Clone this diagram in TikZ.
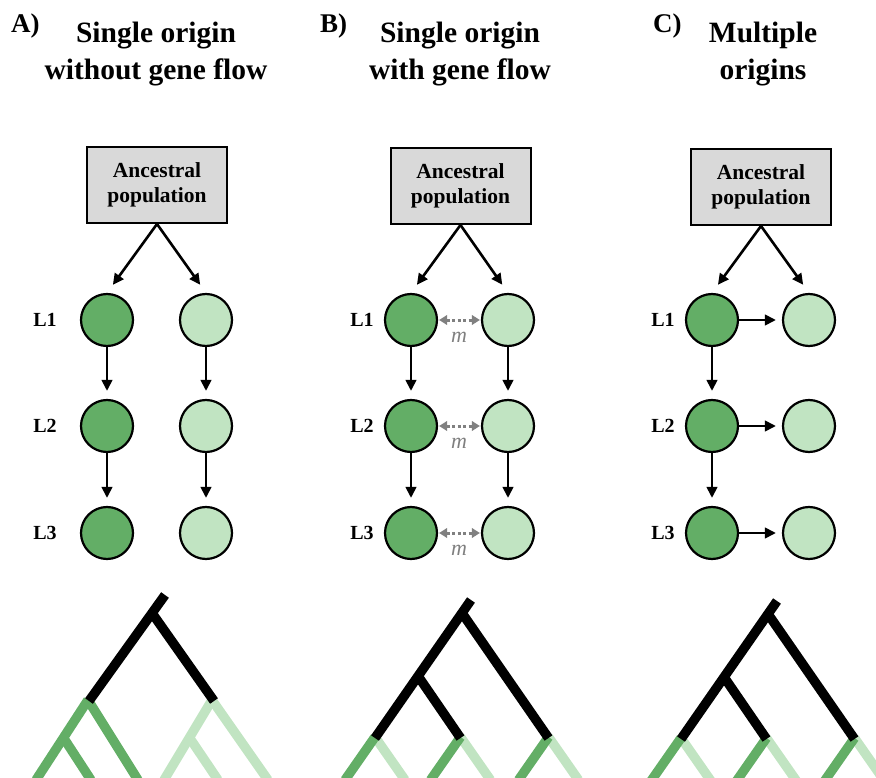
\documentclass[tikz,border=0pt]{standalone}
\usepackage{fontspec}
\setmainfont{Liberation Serif}
\usetikzlibrary{arrows.meta}
\definecolor{dkg}{HTML}{63AE66}
\definecolor{ltg}{HTML}{C1E4C2}
\definecolor{boxg}{HTML}{D9D9D9}
\definecolor{mg}{HTML}{808080}
\begin{document}
\begin{tikzpicture}[x=1pt,y=-1pt,
 title/.style={font=\fontsize{29.5}{37}\selectfont\bfseries, anchor=base, inner sep=0pt},
 plabel/.style={font=\fontsize{27}{30}\selectfont\bfseries, anchor=base west, inner sep=0pt},
 anc/.style={draw, line width=2pt, fill=boxg, minimum width=140pt, minimum height=76pt, align=center, font=\fontsize{21.5}{25}\selectfont\bfseries, inner sep=0pt},
 dk/.style={circle, draw, line width=2.2pt, fill=dkg, minimum size=52pt, inner sep=0pt},
 lt/.style={circle, draw, line width=2.2pt, fill=ltg, minimum size=52pt, inner sep=0pt},
 arr/.style={-{Triangle[length=11pt,width=10.5pt]}, line width=2.6pt},
 gf/.style={{Triangle[length=8pt,width=9.5pt]}-{Triangle[length=8pt,width=9.5pt]}, mg, line width=3pt, dash pattern=on 3pt off 2.5pt, shorten <=1pt, shorten >=1pt},
 lv/.style={font=\fontsize{20}{22}\selectfont\bfseries, inner sep=0pt},
 mlab/.style={font=\fontsize{22}{22}\selectfont\itshape, text=mg, inner sep=0pt},
 tr/.style={line width=9.5pt}
]
\useasboundingbox (0,0) rectangle (876,778);

% ---------- titles ----------
\node[plabel] (pA) at (11,33) {A)};
\node[plabel] (pB) at (320,33) {B)};
\node[plabel] (pC) at (653,33) {C)};
\node[title] (tA1) at (156,43) {Single origin};
\node[title] (tA2) at (156,80) {without gene flow};
\node[title] (tB1) at (460,43) {Single origin};
\node[title] (tB2) at (460,80) {with gene flow};
\node[title] (tC1) at (763,43) {Multiple};
\node[title] (tC2) at (763,80) {origins};

% ---------- panel A ----------
\node[anc] (ancA) at (157,185) {Ancestral\\population};
\node[dk] (a1) at (107,320) {};
\node[dk] (a2) at (107,426) {};
\node[dk] (a3) at (107,533) {};
\node[lt] (ar1) at (206,320) {};
\node[lt] (ar2) at (206,426) {};
\node[lt] (ar3) at (206,533) {};
\node[lv] (la1) at (45,320) {L1};
\node[lv] (la2) at (45,426) {L2};
\node[lv] (la3) at (45,533) {L3};
\draw[arr, shorten >=10pt] (ancA.south) -- (a1.north);
\draw[arr, shorten >=10pt] (ancA.south) -- (ar1.north);
\draw[arr, shorten >=8pt] (a1.south) -- (a2.north);
\draw[arr, shorten >=8pt] (a2.south) -- (a3.north);
\draw[arr, shorten >=8pt] (ar1.south) -- (ar2.north);
\draw[arr, shorten >=8pt] (ar2.south) -- (ar3.north);

% ---------- panel B ----------
\node[anc] (ancB) at (460.5,186) {Ancestral\\population};
\node[dk] (b1) at (411,320) {};
\node[dk] (b2) at (411,426) {};
\node[dk] (b3) at (411,533) {};
\node[lt] (br1) at (508,320) {};
\node[lt] (br2) at (508,426) {};
\node[lt] (br3) at (508,533) {};
\node[lv] (lb1) at (362,320) {L1};
\node[lv] (lb2) at (362,426) {L2};
\node[lv] (lb3) at (362,533) {L3};
\draw[arr, shorten >=10pt] (ancB.south) -- (b1.north);
\draw[arr, shorten >=10pt] (ancB.south) -- (br1.north);
\draw[arr, shorten >=8pt] (b1.south) -- (b2.north);
\draw[arr, shorten >=8pt] (b2.south) -- (b3.north);
\draw[arr, shorten >=8pt] (br1.south) -- (br2.north);
\draw[arr, shorten >=8pt] (br2.south) -- (br3.north);
\draw[gf] (b1.east) -- (br1.west);
\draw[gf] (b2.east) -- (br2.west);
\draw[gf] (b3.east) -- (br3.west);
\node[mlab] (m1) at (459,337) {m};
\node[mlab] (m2) at (459,443) {m};
\node[mlab] (m3) at (459,550) {m};

% ---------- panel C ----------
\node[anc] (ancC) at (761,187) {Ancestral\\population};
\node[dk] (c1) at (712,320) {};
\node[dk] (c2) at (712,426) {};
\node[dk] (c3) at (712,533) {};
\node[lt] (cr1) at (809,320) {};
\node[lt] (cr2) at (809,426) {};
\node[lt] (cr3) at (809,533) {};
\node[lv] (lc1) at (663,320) {L1};
\node[lv] (lc2) at (663,426) {L2};
\node[lv] (lc3) at (663,533) {L3};
\draw[arr, shorten >=10pt] (ancC.south) -- (c1.north);
\draw[arr, shorten >=10pt] (ancC.south) -- (cr1.north);
\draw[arr, shorten >=8pt] (c1.south) -- (c2.north);
\draw[arr, shorten >=8pt] (c2.south) -- (c3.north);
\draw[arr, shorten >=6pt] (c1.east) -- (cr1.west);
\draw[arr, shorten >=6pt] (c2.east) -- (cr2.west);
\draw[arr, shorten >=6pt] (c3.east) -- (cr3.west);

% ---------- trees ----------
\begin{scope}
\clip (0,0) rectangle (876,778);
% tree A
\draw[tr, dkg] (88,700) -- (36,780);
\draw[tr, dkg] (88,700) -- (138,780);
\draw[tr, dkg] (63,737) -- (91,780);
\draw[tr, ltg] (212,700) -- (164,780);
\draw[tr, ltg] (212,700) -- (268,780);
\draw[tr, ltg] (189,737) -- (218,780);
\draw[tr] (165,595) -- (89,701);
\draw[tr] (152,613) -- (214,701);
% trees B and C
\foreach \dx/\dy in {0/0, 306/1} {
 \begin{scope}[shift={(\dx,\dy)}]
  \foreach \sx in {375,460.5,548.5} {
   \draw[tr, ltg] (\sx,737) -- (\sx+30,780);
   \draw[tr, dkg] (\sx,737) -- (\sx-30,780);
  }
  \draw[tr] (471,600) -- (375,738);
  \draw[tr] (462,613) -- (548.5,738);
  \draw[tr] (418,676) -- (460.5,738);
 \end{scope}
}
\end{scope}
\end{tikzpicture}
\end{document}
